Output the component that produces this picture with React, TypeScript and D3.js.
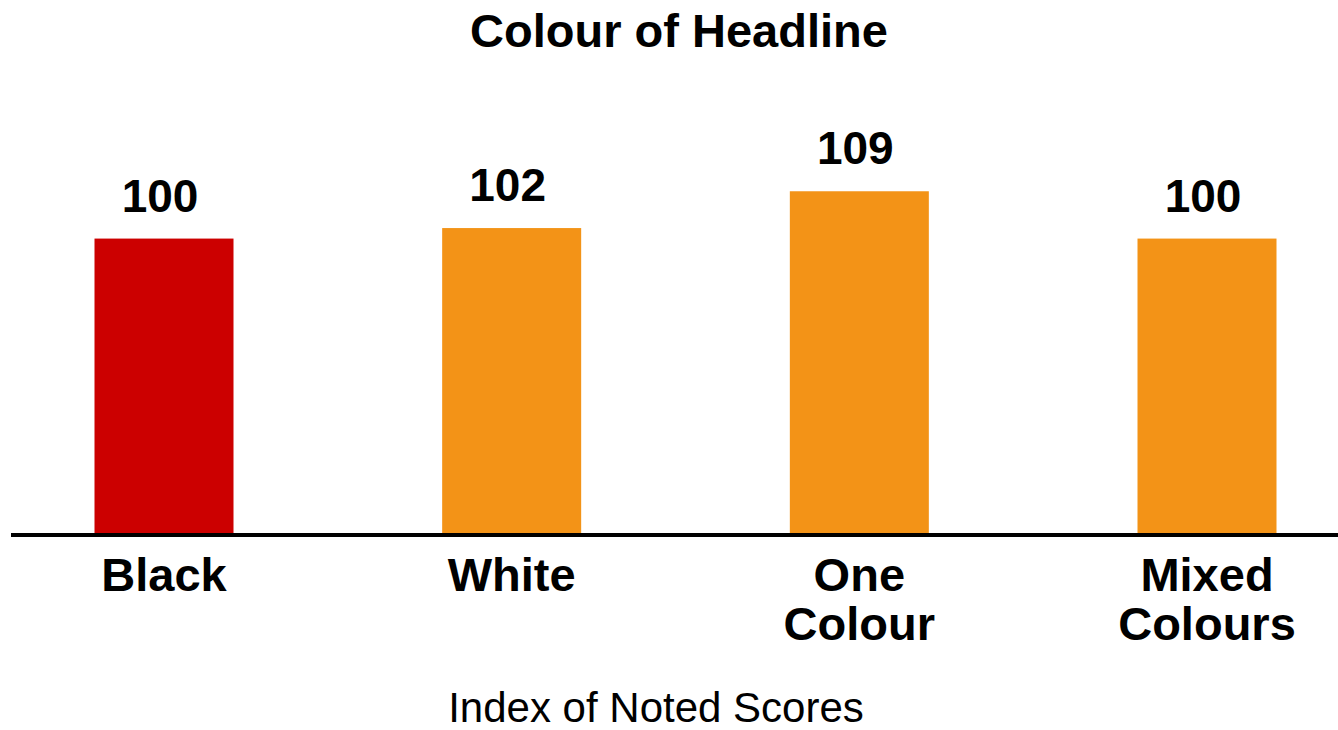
import React from "react";
import * as d3 from "d3";

const categories: string[][] = [["Black"], ["White"], ["One", "Colour"], ["Mixed", "Colours"]];
const values: number[] = [100, 102, 109, 100];
const barColors: string[] = ["#CC0000", "#F39317", "#F39317", "#F39317"];
const chartTitle = "Colour of Headline";
const axisTitle = "Index of Noted Scores";

const W = 1338;
const H = 730;

export default function App() {
  const keys = categories.map((c) => c.join(" "));
  const x = d3.scalePoint<string>().domain(keys).range([164, 1207]);
  const y = d3.scaleLinear().domain([44, 110]).range([533, 186]);
  const barW = 139;
  const font = "'Liberation Sans', Arial, Helvetica, sans-serif";

  return (
    <svg
      width={W}
      height={H}
      style={{ position: "absolute", left: 0, top: 0, display: "block", background: "#fff" }}
      fontFamily={font}
    >
      <text x={679} y={47} textAnchor="middle" fontSize={47} fontWeight="bold" fill="#000">
        {chartTitle}
      </text>
      {values.map((v, i) => {
        const cx = x(keys[i]) as number;
        return (
          <g key={keys[i]}>
            <rect x={cx - barW / 2} y={y(v)} width={barW} height={y(44) - y(v)} fill={barColors[i]} />
            <text
              x={cx - 4}
              y={y(v) - 27}
              textAnchor="middle"
              fontSize={46}
              fontWeight="bold"
              fill="#000"
            >
              {v}
            </text>
            {categories[i].map((line, j) => (
              <text
                key={j}
                x={cx}
                y={591 + j * 49}
                textAnchor="middle"
                fontSize={47}
                fontWeight="bold"
                fill="#000"
              >
                {line}
              </text>
            ))}
          </g>
        );
      })}
      <line x1={11} x2={W} y1={535} y2={535} stroke="#000" strokeWidth={4} />
      <text x={656} y={722} textAnchor="middle" fontSize={42} fill="#000">
        {axisTitle}
      </text>
    </svg>
  );
}
